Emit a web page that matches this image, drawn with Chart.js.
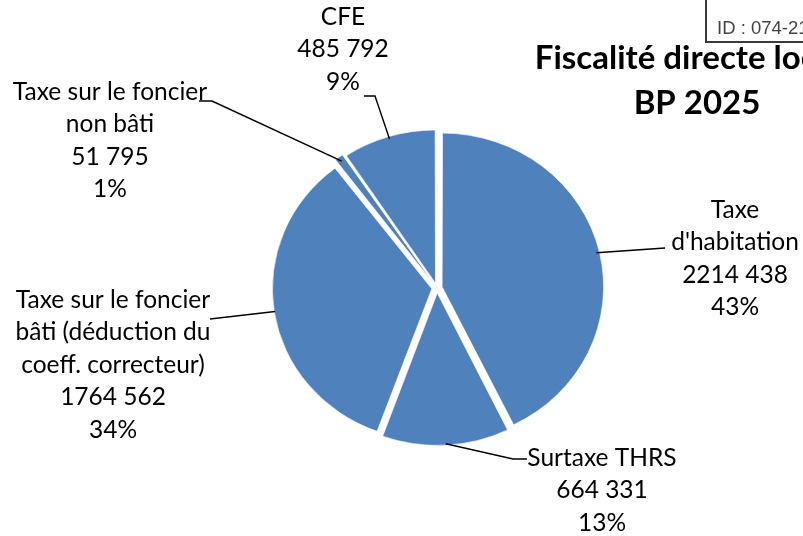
<!DOCTYPE html>
<html>
<head>
<meta charset="utf-8">
<script src="https://cdn.jsdelivr.net/npm/chart.js@4.4.1/dist/chart.umd.min.js"></script>
<style>
  html, body { margin: 0; padding: 0; background: #fff; }
  #wrap { width: 803px; height: 536px; position: relative; }
</style>
</head>
<body>
<div id="wrap"><canvas id="chart"></canvas></div>
<script>
var categories = [
  "Taxe\nd'habitation",
  "Surtaxe THRS",
  "Taxe sur le foncier\nbâti (déduction du\ncoeff. correcteur)",
  "Taxe sur le foncier\nnon bâti",
  "CFE"
];
var values = [2214438, 664331, 1764562, 51795, 485792];
var titleLines = ["Fiscalité directe locale", "BP 2025"];
var stampText = "ID : 074-21";

// where each label sits and how its leader line runs (layout only)
var labelLayout = [
  { cx: 735, y0: 210, path: [[665, 248]] },
  { cx: 602, y0: 458, path: [[513, 459], [527, 459]] },
  { cx: 113, y0: 300, path: [[210, 319]] },
  { cx: 110, y0: 92, path: [[212, 101], [199, 101]] },
  { cx: 343, y0: 17, path: [[375, 96], [364, 96]] }
];

var FONT = "Lato, 'Open Sans', sans-serif";
var stretchX = 1.05;

function fmt(v) {
  var s = String(v);
  return s.slice(0, s.length - 3) + " " + s.slice(-3);
}

var total = values.reduce(function(a, b) { return a + b; }, 0);

var stretchPlugin = {
  id: "stretch",
  beforeDatasetsDraw: function(chart) {
    var el = chart.getDatasetMeta(0).data[0];
    var ctx = chart.ctx;
    ctx.save();
    ctx.translate(el.x, 0);
    ctx.scale(stretchX, 1);
    ctx.translate(-el.x, 0);
  },
  afterDatasetsDraw: function(chart) {
    chart.ctx.restore();
  }
};

var labelsPlugin = {
  id: "pieLabels",
  afterDraw: function(chart) {
    var ctx = chart.ctx;
    var meta = chart.getDatasetMeta(0);
    ctx.save();

    // title
    ctx.fillStyle = "#000";
    ctx.font = "bold 33px " + FONT;
    ctx.textAlign = "center";
    ctx.textBaseline = "middle";
    ctx.fillText(titleLines[0], 697, 58);
    ctx.fillText(titleLines[1], 697, 103);

    // stamp box
    ctx.fillStyle = "#fff";
    ctx.fillRect(706, -5, 110, 47);
    ctx.strokeStyle = "#3a3a3a";
    ctx.lineWidth = 2;
    ctx.strokeRect(706, -5, 110, 47);
    ctx.fillStyle = "#444";
    ctx.font = "18.5px 'Liberation Sans', Arial, sans-serif";
    ctx.textAlign = "left";
    ctx.textBaseline = "alphabetic";
    ctx.fillText(stampText, 717, 34);

    // slice labels with leader lines
    meta.data.forEach(function(arc, i) {
      var lay = labelLayout[i];
      var mid = (arc.startAngle + arc.endAngle) / 2;
      var r = arc.outerRadius + (arc.options.offset || 0) / 4;
      var ax = arc.x + Math.cos(mid) * r * stretchX;
      var ay = arc.y + Math.sin(mid) * r;

      ctx.strokeStyle = "#000";
      ctx.lineWidth = 1.4;
      ctx.beginPath();
      ctx.moveTo(ax, ay);
      lay.path.forEach(function(p) { ctx.lineTo(p[0], p[1]); });
      ctx.stroke();

      var lines = categories[i].split("\n");
      lines.push(fmt(values[i]));
      lines.push(Math.round(values[i] / total * 100) + "%");
      ctx.fillStyle = "#000";
      ctx.font = "24.5px " + FONT;
      ctx.textAlign = "center";
      ctx.textBaseline = "middle";
      lines.forEach(function(t, k) {
        ctx.fillText(t, lay.cx, lay.y0 + k * 32.5);
      });
    });
    ctx.restore();
  }
};

var ctx = document.getElementById("chart");
var myChart = new Chart(ctx, {
  type: "pie",
  data: {
    labels: categories,
    datasets: [
      {
        data: values,
        backgroundColor: "#4F81BD",
        borderColor: "#ffffff",
        borderWidth: 0.6,
        offset: 20
      }
    ]
  },
  options: {
    responsive: true,
    maintainAspectRatio: false,
    animation: false,
    radius: 151,
    layout: { padding: { left: 71, right: 0, top: 40, bottom: 0 } },
    plugins: {
      legend: { display: false },
      tooltip: { enabled: false },
      title: { display: false }
    }
  },
  plugins: [stretchPlugin, labelsPlugin]
});
</script>
</body>
</html>
